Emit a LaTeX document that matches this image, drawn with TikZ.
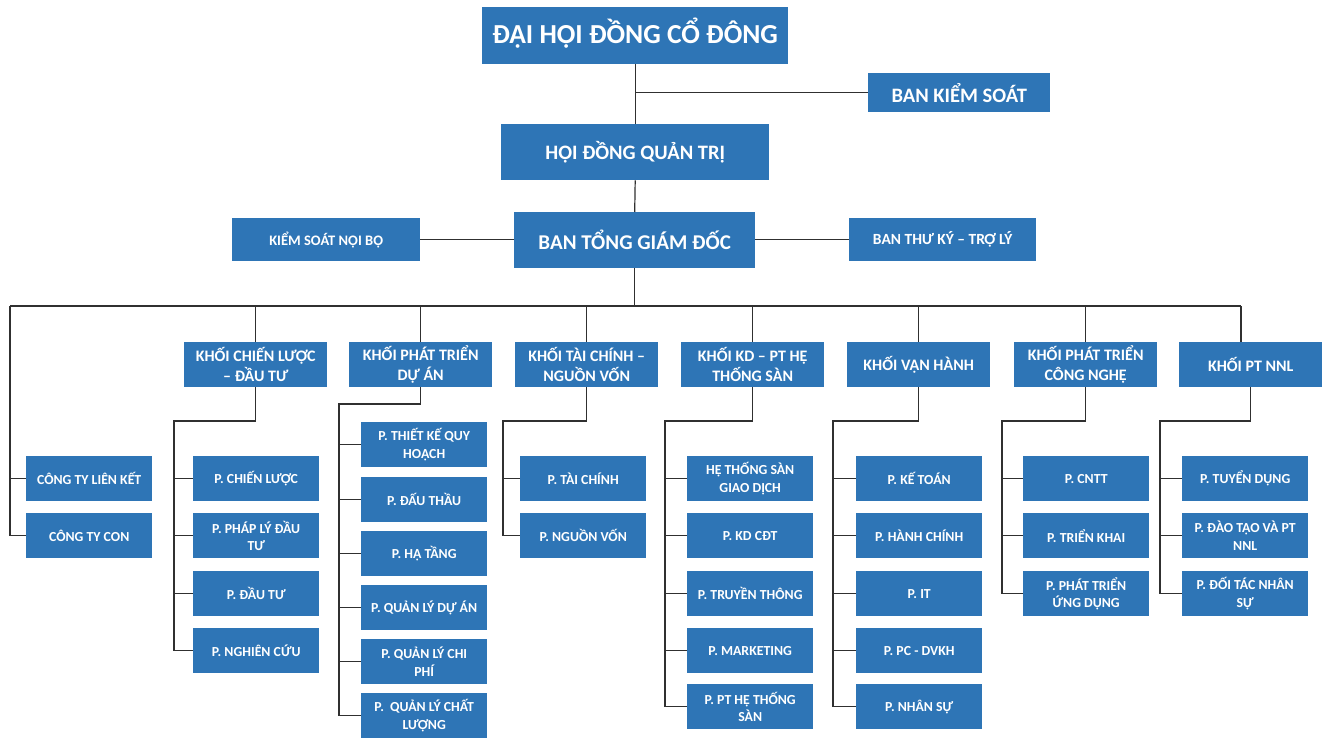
\documentclass[tikz,border=0pt]{standalone}
\usepackage{fontspec}
\setmainfont{Carlito}
\definecolor{boxblue}{HTML}{2E75B6}
\definecolor{linec}{HTML}{303030}
\tikzset{
  bx/.style={fill=boxblue, text=white, align=center, inner sep=0pt, anchor=north west},
  sub/.style={bx, minimum width=126, minimum height=45, font=\fontsize{13.8}{17.5}\selectfont\bfseries},
  khoi/.style={bx, minimum width=143, minimum height=45, font=\fontsize{16}{20}\selectfont\bfseries},
  conn/.style={draw=linec, line width=1.2pt},
}
\begin{document}
\begin{tikzpicture}[x=1pt,y=-1pt]
\fill[white] (0,0) rectangle (1328,738);
\useasboundingbox (0,0) rectangle (1328,738);
% top level
\node[bx, minimum width=306, minimum height=57, font=\fontsize{27.5}{30}\selectfont\bfseries] (dh) at (482,7) {\raisebox{9pt}{ĐẠI HỘI ĐỒNG CỔ ĐÔNG}};
\node[bx, minimum width=182, minimum height=39, font=\fontsize{20.5}{24}\selectfont\bfseries] (bks) at (868,73) {BAN KIỂM SOÁT};
\node[bx, minimum width=268, minimum height=56, font=\fontsize{20.5}{24}\selectfont\bfseries] (hd) at (501,124) {HỘI ĐỒNG QUẢN TRỊ};
\node[bx, minimum width=241, minimum height=56, font=\fontsize{21}{24}\selectfont\bfseries] (bt) at (514,212) {BAN TỔNG GIÁM ĐỐC};
\node[bx, minimum width=188, minimum height=43, font=\fontsize{14.5}{18}\selectfont\bfseries] (ks) at (232,218) {KIỂM SOÁT NỘI BỘ};
\node[bx, minimum width=187, minimum height=43, font=\fontsize{15.5}{18}\selectfont\bfseries] (tk) at (849,218) {BAN THƯ KÝ – TRỢ LÝ};
% khoi
\node[khoi] (k2) at (184,342) {KHỐI CHIẾN LƯỢC\\– ĐẦU TƯ};
\node[khoi] (k3) at (349,342) {KHỐI PHÁT TRIỂN\\DỰ ÁN};
\node[khoi] (k4) at (515,342) {KHỐI TÀI CHÍNH –\\NGUỒN VỐN};
\node[khoi] (k5) at (681,342) {KHỐI KD – PT HỆ\\THỐNG SÀN};
\node[khoi] (k6) at (847,342) {KHỐI VẬN HÀNH};
\node[khoi] (k7) at (1014,342) {KHỐI PHÁT TRIỂN\\CÔNG NGHỆ};
\node[khoi] (k8) at (1179,342) {KHỐI PT NNL};
% children
\node[sub] (c11) at (26,456) {CÔNG TY LIÊN KẾT};
\node[sub] (c12) at (26,513) {CÔNG TY CON};
\node[sub] (c21) at (193,456) {P. CHIẾN LƯỢC};
\node[sub] (c22) at (193,513) {P. PHÁP LÝ ĐẦU\\TƯ};
\node[sub] (c23) at (193,571) {P. ĐẦU TƯ};
\node[sub] (c24) at (193,628) {P. NGHIÊN CỨU};
\node[sub] (c31) at (361,422) {P. THIẾT KẾ QUY\\HOẠCH};
\node[sub] (c32) at (361,477) {P. ĐẤU THẦU};
\node[sub] (c33) at (361,531) {P. HẠ TẦNG};
\node[sub] (c34) at (361,585) {P. QUẢN LÝ DỰ ÁN};
\node[sub] (c35) at (361,639) {P. QUẢN LÝ CHI\\PHÍ};
\node[sub] (c36) at (361,693) {P.\ \ QUẢN LÝ CHẤT\\LƯỢNG};
\node[sub] (c41) at (520,456) {P. TÀI CHÍNH};
\node[sub] (c42) at (520,513) {P. NGUỒN VỐN};
\node[sub] (c51) at (687,456) {HỆ THỐNG SÀN\\GIAO DỊCH};
\node[sub] (c52) at (687,513) {P. KD CĐT};
\node[sub] (c53) at (687,571) {P. TRUYỀN THÔNG};
\node[sub] (c54) at (687,628) {P. MARKETING};
\node[sub] (c55) at (687,684) {P. PT HỆ THỐNG\\SÀN};
\node[sub] (c61) at (856,456) {P. KẾ TOÁN};
\node[sub] (c62) at (856,513) {P. HÀNH CHÍNH};
\node[sub] (c63) at (856,571) {P. IT};
\node[sub] (c64) at (856,628) {P. PC - DVKH};
\node[sub] (c65) at (856,684) {P. NHÂN SỰ};
\node[sub] (c71) at (1023,456) {P. CNTT};
\node[sub] (c72) at (1023,513) {P. TRIỂN KHAI};
\node[sub] (c73) at (1023,571) {P. PHÁT TRIỂN\\ỨNG DỤNG};
\node[sub] (c81) at (1182,456) {P. TUYỂN DỤNG};
\node[sub] (c82) at (1182,513) {P. ĐÀO TẠO VÀ PT\\NNL};
\node[sub] (c83) at (1182,571) {P. ĐỐI TÁC NHÂN\\SỰ};
% coordinates
\coordinate (busL) at (10,306);
\coordinate (busR) at (1241,306);
\coordinate (j2) at (174,421);
\coordinate (j3) at (339,404);
\coordinate (j4) at (503,421);
\coordinate (j5) at (665,421);
\coordinate (j6) at (833,421);
\coordinate (j7) at (1002,421);
\coordinate (j8) at (1160,421);
% top connectors
\draw[conn] (dh.south) -- (hd.north);
\draw[conn] (dh.south |- bks.west) -- (bks.west);
\draw[conn] (hd.south) -- (bt.north);
\draw[conn] (ks.east) -- (bt.west |- ks.east);
\draw[conn] (bt.east |- tk.west) -- (tk.west);
\draw[conn] (bt.south) -- (bt.south |- busL);
\draw[conn] (busL) -- (busR);
\foreach \k in {k2,k3,k4,k5,k6,k7} \draw[conn] (\k.north |- busL) -- (\k.north);
\draw[conn] (busR) -- (busR |- k8.north);
% left column
\draw[conn] (busL) -- (busL |- c12.west);
\foreach \c in {c11,c12} \draw[conn] (busL |- \c.west) -- (\c.west);
% khoi columns
\draw[conn] (k2.south) |- (j2) -- (j2 |- c24.west);
\foreach \c in {c21,c22,c23,c24} \draw[conn] (j2 |- \c.west) -- (\c.west);
\draw[conn] (k3.south) |- (j3) -- (j3 |- c36.west);
\foreach \c in {c31,c32,c33,c34,c35,c36} \draw[conn] (j3 |- \c.west) -- (\c.west);
\draw[conn] (k4.south) |- (j4) -- (j4 |- c42.west);
\foreach \c in {c41,c42} \draw[conn] (j4 |- \c.west) -- (\c.west);
\draw[conn] (k5.south) |- (j5) -- (j5 |- c55.west);
\foreach \c in {c51,c52,c53,c54,c55} \draw[conn] (j5 |- \c.west) -- (\c.west);
\draw[conn] (k6.south) |- (j6) -- (j6 |- c65.west);
\foreach \c in {c61,c62,c63,c64,c65} \draw[conn] (j6 |- \c.west) -- (\c.west);
\draw[conn] (k7.south) |- (j7) -- (j7 |- c73.west);
\foreach \c in {c71,c72,c73} \draw[conn] (j7 |- \c.west) -- (\c.west);
\draw[conn] (k8.south) |- (j8) -- (j8 |- c83.west);
\foreach \c in {c81,c82,c83} \draw[conn] (j8 |- \c.west) -- (\c.west);
\end{tikzpicture}
\end{document}
